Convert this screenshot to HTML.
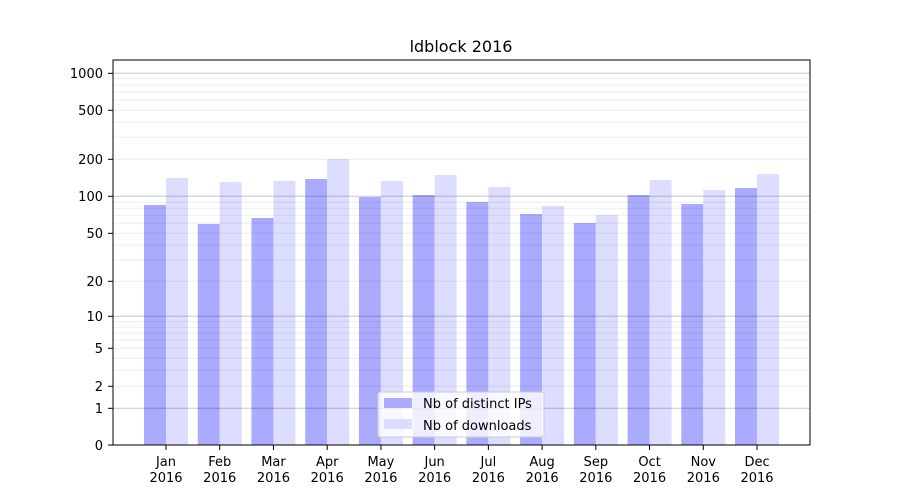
<!DOCTYPE html>
<html><head><meta charset="utf-8"><style>body{margin:0;background:#fff}svg{display:block}text{font-family:"DejaVu Sans","Liberation Sans",sans-serif;font-size:13px;fill:#000}</style></head>
<body>
<svg width="900" height="500" xmlns="http://www.w3.org/2000/svg">
<rect width="900" height="500" fill="#fff"/>
<g fill="#aaaaff">
<rect x="144" y="205" width="22" height="240"/>
<rect x="197.73" y="224" width="22" height="221"/>
<rect x="251.46" y="218" width="22" height="227"/>
<rect x="305.19" y="179" width="22" height="266"/>
<rect x="358.92" y="197" width="22" height="248"/>
<rect x="412.65" y="195" width="22" height="250"/>
<rect x="466.38" y="202" width="22" height="243"/>
<rect x="520.11" y="214" width="22" height="231"/>
<rect x="573.84" y="223" width="22" height="222"/>
<rect x="627.57" y="195" width="22" height="250"/>
<rect x="681.3" y="204" width="22" height="241"/>
<rect x="735.03" y="188" width="22" height="257"/>
</g>
<g fill="#ddddff">
<rect x="166" y="178" width="22" height="267"/>
<rect x="219.73" y="182" width="22" height="263"/>
<rect x="273.46" y="181" width="22" height="264"/>
<rect x="327.19" y="159" width="22" height="286"/>
<rect x="380.92" y="181" width="22" height="264"/>
<rect x="434.65" y="175" width="22" height="270"/>
<rect x="488.38" y="187" width="22" height="258"/>
<rect x="542.11" y="206" width="22" height="239"/>
<rect x="595.84" y="215" width="22" height="230"/>
<rect x="649.57" y="180" width="22" height="265"/>
<rect x="703.3" y="190" width="22" height="255"/>
<rect x="757.03" y="174" width="22" height="271"/>
</g>
<g stroke="#000" stroke-opacity="0.07" stroke-width="1">
<line x1="113" x2="810" y1="321.7" y2="321.7"/><line x1="113" x2="810" y1="327.3" y2="327.3"/><line x1="113" x2="810" y1="333.3" y2="333.3"/><line x1="113" x2="810" y1="340.3" y2="340.3"/><line x1="113" x2="810" y1="348.3" y2="348.3"/><line x1="113" x2="810" y1="358.3" y2="358.3"/><line x1="113" x2="810" y1="370.3" y2="370.3"/><line x1="113" x2="810" y1="386.3" y2="386.3"/>
<line x1="113" x2="810" y1="202.3" y2="202.3"/><line x1="113" x2="810" y1="208.3" y2="208.3"/><line x1="113" x2="810" y1="215.3" y2="215.3"/><line x1="113" x2="810" y1="223.3" y2="223.3"/><line x1="113" x2="810" y1="233.3" y2="233.3"/><line x1="113" x2="810" y1="245.3" y2="245.3"/><line x1="113" x2="810" y1="260.3" y2="260.3"/><line x1="113" x2="810" y1="281.3" y2="281.3"/>
<line x1="113" x2="810" y1="78.3" y2="78.3"/><line x1="113" x2="810" y1="85.3" y2="85.3"/><line x1="113" x2="810" y1="92.3" y2="92.3"/><line x1="113" x2="810" y1="100.3" y2="100.3"/><line x1="113" x2="810" y1="110.3" y2="110.3"/><line x1="113" x2="810" y1="122.3" y2="122.3"/><line x1="113" x2="810" y1="137.3" y2="137.3"/><line x1="113" x2="810" y1="159.3" y2="159.3"/>
</g>
<g stroke="#000" stroke-opacity="0.22" stroke-width="1">
<line x1="113" x2="810" y1="408.3" y2="408.3"/><line x1="113" x2="810" y1="316.3" y2="316.3"/><line x1="113" x2="810" y1="196.3" y2="196.3"/><line x1="113" x2="810" y1="73.3" y2="73.3"/>
</g>
<rect x="113" y="60" width="697" height="385" fill="none" stroke="#000" stroke-width="1"/>
<text x="461" y="52" text-anchor="middle" style="font-size:16px">ldblock 2016</text>
<g text-anchor="end">
<text x="103" y="450">0</text><text x="103" y="413">1</text><text x="103" y="391">2</text><text x="103" y="353">5</text><text x="103" y="321">10</text><text x="103" y="286">20</text><text x="103" y="238">50</text><text x="103" y="201">100</text><text x="103" y="164">200</text><text x="103" y="115">500</text><text x="103" y="78">1000</text>
</g>
<g stroke="#000"><line x1="108" x2="113" y1="445" y2="445"/><line x1="108" x2="113" y1="408.3" y2="408.3"/><line x1="108" x2="113" y1="386.3" y2="386.3"/><line x1="108" x2="113" y1="348.3" y2="348.3"/><line x1="108" x2="113" y1="316.3" y2="316.3"/><line x1="108" x2="113" y1="281.3" y2="281.3"/><line x1="108" x2="113" y1="233.3" y2="233.3"/><line x1="108" x2="113" y1="196.3" y2="196.3"/><line x1="108" x2="113" y1="159.3" y2="159.3"/><line x1="108" x2="113" y1="110.3" y2="110.3"/><line x1="108" x2="113" y1="73.3" y2="73.3"/>
<line x1="166" x2="166" y1="445" y2="450"/><line x1="219.73" x2="219.73" y1="445" y2="450"/><line x1="273.46" x2="273.46" y1="445" y2="450"/><line x1="327.19" x2="327.19" y1="445" y2="450"/><line x1="380.92" x2="380.92" y1="445" y2="450"/><line x1="434.65" x2="434.65" y1="445" y2="450"/><line x1="488.38" x2="488.38" y1="445" y2="450"/><line x1="542.11" x2="542.11" y1="445" y2="450"/><line x1="595.84" x2="595.84" y1="445" y2="450"/><line x1="649.57" x2="649.57" y1="445" y2="450"/><line x1="703.3" x2="703.3" y1="445" y2="450"/><line x1="757.03" x2="757.03" y1="445" y2="450"/>
</g>
<g text-anchor="middle">
<text x="166" y="466">Jan</text><text x="166" y="482">2016</text>
<text x="219.73" y="466">Feb</text><text x="219.73" y="482">2016</text>
<text x="273.46" y="466">Mar</text><text x="273.46" y="482">2016</text>
<text x="327.19" y="466">Apr</text><text x="327.19" y="482">2016</text>
<text x="380.92" y="466">May</text><text x="380.92" y="482">2016</text>
<text x="434.65" y="466">Jun</text><text x="434.65" y="482">2016</text>
<text x="488.38" y="466">Jul</text><text x="488.38" y="482">2016</text>
<text x="542.11" y="466">Aug</text><text x="542.11" y="482">2016</text>
<text x="595.84" y="466">Sep</text><text x="595.84" y="482">2016</text>
<text x="649.57" y="466">Oct</text><text x="649.57" y="482">2016</text>
<text x="703.3" y="466">Nov</text><text x="703.3" y="482">2016</text>
<text x="757.03" y="466">Dec</text><text x="757.03" y="482">2016</text>
</g>
<rect x="378" y="392" width="166" height="45" fill="#fff" fill-opacity="0.8" stroke="#ccc" rx="2"/>
<rect x="384" y="398" width="28" height="10" fill="#aaaaff"/>
<rect x="384" y="419" width="28" height="10" fill="#ddddff"/>
<text x="423" y="408">Nb of distinct IPs</text>
<text x="423" y="430">Nb of downloads</text>
</svg>
</body></html>
